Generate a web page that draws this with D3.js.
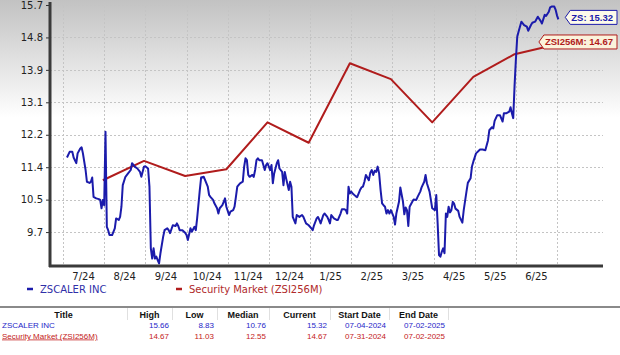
<!DOCTYPE html>
<html><head><meta charset="utf-8">
<script src="https://cdn.jsdelivr.net/npm/d3@7"></script>
<style>html,body{margin:0;padding:0;background:#fff;}svg{display:block;}</style>
</head><body>
<svg id="c" width="620" height="355"></svg>
<script>
// ---------- data ----------
const monthLabels = ['7/24','8/24','9/24','10/24','11/24','12/24','1/25','2/25','3/25','4/25','5/25','6/25'];
const yTickValues = [15.7, 14.843, 13.986, 13.129, 12.271, 11.414, 10.557, 9.7];
const yTickLabels = ['15.7','14.8','13.9','13.1','12.2','11.4','10.5','9.7'];

const zsDates = ['2024-07-04','2024-07-06','2024-07-08','2024-07-09','2024-07-11','2024-07-12','2024-07-14','2024-07-15','2024-07-16','2024-07-18','2024-07-19','2024-07-21','2024-07-22','2024-07-23','2024-07-24','2024-07-26','2024-07-28','2024-07-29','2024-07-30','2024-07-31',
'2024-08-01','2024-08-02','2024-08-03','2024-08-04','2024-08-05','2024-08-07','2024-08-09','2024-08-10','2024-08-12','2024-08-13','2024-08-14','2024-08-15','2024-08-17','2024-08-19','2024-08-21','2024-08-22','2024-08-24','2024-08-26','2024-08-28','2024-08-29','2024-08-31',
'2024-09-01','2024-09-03','2024-09-04','2024-09-05','2024-09-06','2024-09-07','2024-09-08','2024-09-09','2024-09-10','2024-09-11','2024-09-12','2024-09-14','2024-09-15','2024-09-17','2024-09-18','2024-09-19','2024-09-21','2024-09-23','2024-09-24','2024-09-25','2024-09-26','2024-09-28','2024-09-30',
'2024-10-01','2024-10-02','2024-10-04','2024-10-05','2024-10-07','2024-10-08','2024-10-09','2024-10-11','2024-10-12','2024-10-14','2024-10-15','2024-10-17','2024-10-18','2024-10-19','2024-10-21','2024-10-22','2024-10-24','2024-10-25','2024-10-26','2024-10-28','2024-10-29','2024-10-30','2024-10-31',
'2024-11-02','2024-11-03','2024-11-05','2024-11-06','2024-11-07','2024-11-08','2024-11-10','2024-11-12','2024-11-13','2024-11-14','2024-11-15','2024-11-16','2024-11-17','2024-11-19','2024-11-20','2024-11-21','2024-11-22','2024-11-23','2024-11-24','2024-11-26','2024-11-27','2024-11-28','2024-11-29','2024-11-30',
'2024-12-02','2024-12-03','2024-12-04','2024-12-05','2024-12-07','2024-12-08','2024-12-09','2024-12-11','2024-12-12','2024-12-13','2024-12-14','2024-12-16','2024-12-17','2024-12-18','2024-12-19','2024-12-21','2024-12-22','2024-12-24','2024-12-26','2024-12-27','2024-12-29','2024-12-31',
'2025-01-02','2025-01-03','2025-01-04','2025-01-06','2025-01-07','2025-01-08','2025-01-09','2025-01-11','2025-01-12','2025-01-14','2025-01-15','2025-01-16','2025-01-17','2025-01-19','2025-01-21','2025-01-22','2025-01-24','2025-01-25','2025-01-27','2025-01-28','2025-01-29','2025-01-30','2025-01-31',
'2025-02-01','2025-02-02','2025-02-04','2025-02-05','2025-02-07','2025-02-08','2025-02-09','2025-02-10','2025-02-11','2025-02-13','2025-02-14','2025-02-15','2025-02-16','2025-02-17','2025-02-18','2025-02-19','2025-02-20','2025-02-21','2025-02-22','2025-02-23','2025-02-24','2025-02-25','2025-02-26','2025-02-27','2025-02-28',
'2025-03-02','2025-03-03','2025-03-04','2025-03-06','2025-03-07','2025-03-09','2025-03-10','2025-03-11','2025-03-12','2025-03-13','2025-03-14','2025-03-16','2025-03-17','2025-03-19','2025-03-20','2025-03-22','2025-03-23','2025-03-25','2025-03-26','2025-03-27','2025-03-29','2025-03-30','2025-03-31',
'2025-04-02','2025-04-03','2025-04-04','2025-04-05','2025-04-06','2025-04-07','2025-04-08','2025-04-09','2025-04-10','2025-04-11','2025-04-12','2025-04-13','2025-04-14','2025-04-15','2025-04-16','2025-04-17','2025-04-19','2025-04-20','2025-04-22','2025-04-23','2025-04-25','2025-04-26','2025-04-28','2025-04-29','2025-04-30',
'2025-05-02','2025-05-05','2025-05-07','2025-05-09','2025-05-11','2025-05-12','2025-05-14','2025-05-15','2025-05-16','2025-05-18','2025-05-20','2025-05-22','2025-05-23','2025-05-25','2025-05-27','2025-05-28','2025-05-29','2025-05-30','2025-05-31',
'2025-06-01','2025-06-02','2025-06-03','2025-06-05','2025-06-07','2025-06-09','2025-06-10','2025-06-12','2025-06-13','2025-06-15','2025-06-17','2025-06-19','2025-06-20','2025-06-22','2025-06-23','2025-06-25','2025-06-26','2025-06-27','2025-06-29','2025-06-30',
'2025-07-01','2025-07-02'];
const zsValues = [11.67,11.82,11.82,11.67,11.52,11.78,11.91,11.94,11.78,11.34,11.03,11.00,11.03,11.14,10.63,10.59,10.57,10.55,10.33,10.55,
10.41,12.35,9.84,9.75,9.62,9.62,9.80,10.06,10.02,10.10,10.37,10.94,11.16,11.25,11.34,11.52,11.43,11.38,11.29,11.16,11.43,
11.44,11.38,10.90,9.27,9.00,9.27,9.00,9.05,8.96,8.87,9.14,9.58,9.75,9.80,9.75,9.67,9.88,9.86,9.93,9.86,9.75,9.75,9.68,
9.62,9.49,9.80,9.71,9.84,9.75,10.06,10.81,11.14,11.16,11.07,10.90,10.68,10.63,10.55,10.46,10.33,10.19,10.33,10.41,10.50,10.59,10.37,
10.15,10.24,10.28,10.37,10.63,10.90,10.99,11.03,11.43,11.65,11.60,11.21,11.16,11.21,11.16,11.34,11.60,11.65,11.60,11.60,11.47,11.34,11.47,11.52,
11.34,11.47,10.99,11.25,11.52,11.60,11.38,11.29,10.94,11.29,11.12,10.81,11.03,10.90,10.10,9.93,10.15,10.10,10.15,10.10,9.93,9.88,
9.80,9.75,9.88,10.06,10.10,10.02,9.93,10.15,10.19,10.10,10.02,9.93,10.15,10.06,10.02,10.02,10.19,10.30,10.30,10.28,10.19,10.90,10.72,
10.77,10.72,10.65,10.62,10.81,10.88,10.90,11.03,11.21,11.07,11.27,11.34,11.21,11.32,11.29,11.43,11.25,10.81,10.46,10.41,10.37,10.19,10.28,10.19,10.28,
10.10,9.90,10.19,10.50,10.88,10.50,10.17,10.35,10.28,9.86,10.37,10.50,10.56,10.55,10.63,10.77,10.88,11.03,11.21,10.99,10.77,10.55,10.33,
10.28,10.68,9.93,9.09,9.05,9.18,9.27,9.14,10.19,10.10,10.37,10.22,10.28,10.50,10.45,10.32,10.26,10.10,9.95,10.28,10.77,11.00,11.12,11.43,11.56,
11.78,11.88,11.88,11.86,12.12,12.39,12.47,12.44,12.64,12.79,12.79,12.62,12.84,12.84,12.88,13.00,12.84,12.71,13.55,
14.25,14.86,15.00,15.26,15.17,15.13,15.02,15.17,15.23,15.26,15.39,15.28,15.21,15.44,15.41,15.52,15.64,15.66,15.66,15.57,
15.42,15.32];

const mktDates = ['2024-07-31','2024-08-31','2024-09-30','2024-10-31','2024-11-30','2024-12-31','2025-01-31','2025-02-28','2025-03-31','2025-04-30','2025-05-31','2025-07-02'];
const mktValues = [11.07,11.58,11.18,11.36,12.60,12.06,14.16,13.74,12.60,13.80,14.40,14.67];

const seriesNames = ['ZSCALER INC','Security Market (ZSI256M)'];
const tableHeaders = ['Title','High','Low','Median','Current','Start Date','End Date'];
const tableRows = [
  ['ZSCALER INC','15.66','8.83','10.76','15.32','07-04-2024','07-02-2025'],
  ['Security Market (ZSI256M)','14.67','11.03','12.55','14.67','07-31-2024','07-02-2025']
];
const tagLabels = ['ZS: 15.32','ZSI256M: 14.67'];

// ---------- layout ----------
const W = 620, H = 355;
const L = 50, R = 603, T = 5, B = 265;
const X0 = 63, MW = 41.17;
const BLUE = '#1b1bab', RED = '#b01c1c';
const parse = d3.timeParse('%Y-%m-%d');

const svg = d3.select('#c');
const defs = svg.append('defs');
const g = defs.append('linearGradient').attr('id','bg').attr('gradientUnits','userSpaceOnUse')
  .attr('x1',0).attr('y1',0).attr('x2',0).attr('y2',118);
g.append('stop').attr('offset',0).attr('stop-color','#c2c2c2');
g.append('stop').attr('offset',1).attr('stop-color','#ffffff');
svg.append('rect').attr('width',W).attr('height',H).attr('fill','#fff');
svg.append('rect').attr('width',W).attr('height',120).attr('fill','url(#bg)');

// x: equal-width months (polylinear time scale)
const monthStarts = d3.timeMonths(new Date(2024,6,1), new Date(2025,7,2));
const x = d3.scaleTime().domain(monthStarts).range(monthStarts.map((d,i)=>X0+i*MW));
const y = d3.scaleLinear().domain([8.83,15.70]).range([B,T]);

// grid
const grid = svg.append('g').attr('stroke','#c4c4c4').attr('stroke-dasharray','2,2').attr('stroke-width',1);
yTickValues.forEach(v=>grid.append('line').attr('x1',L).attr('x2',R).attr('y1',Math.round(y(v))+0.5).attr('y2',Math.round(y(v))+0.5));
monthStarts.slice(0,13).forEach(d=>grid.append('line').attr('x1',Math.round(x(d))+0.5).attr('x2',Math.round(x(d))+0.5).attr('y1',2).attr('y2',B));

// lines
const zs = zsDates.map((d,i)=>({d:parse(d),v:zsValues[i]}));
const mk = mktDates.map((d,i)=>({d:parse(d),v:mktValues[i]}));
const line = d3.line().x(p=>x(p.d)).y(p=>y(p.v));
svg.append('path').datum(mk).attr('d',line).attr('fill','none').attr('stroke',RED).attr('stroke-width',2).attr('stroke-linejoin','round');
svg.append('path').datum(zs).attr('d',line).attr('fill','none').attr('stroke',BLUE).attr('stroke-width',2).attr('stroke-linejoin','round');

// y axis
const ya = d3.axisLeft(y).tickValues(yTickValues).tickSize(4).tickPadding(3).tickFormat((v,i)=>yTickLabels[i]);
const yg = svg.append('g').attr('transform',`translate(${L},0)`).call(ya);
yg.select('.domain').remove();
yg.selectAll('line').attr('stroke','#333');
yg.selectAll('text').attr('font-family','DejaVu Sans, Verdana, sans-serif').attr('font-size',10).attr('fill','#222');
svg.append('line').attr('x1',L).attr('x2',L).attr('y1',2).attr('y2',B+2).attr('stroke','#3a3a3a').attr('stroke-width',3);
svg.append('line').attr('x1',L-1).attr('x2',R).attr('y1',B+1).attr('y2',B+1).attr('stroke','#3a3a3a').attr('stroke-width',3);

// x labels (mid-month)
const xl = svg.append('g').attr('font-family','DejaVu Sans, Verdana, sans-serif').attr('font-size',10).attr('fill','#222').attr('text-anchor','middle');
monthLabels.forEach((t,i)=>xl.append('text').attr('x',x(monthStarts[i])+MW/2).attr('y',280).text(t));

// tags
function tag(label, yc, stroke, fill, color){
  const tg = svg.append('g');
  const tx = tg.append('text').attr('font-family','Liberation Sans, Arial, sans-serif').attr('font-weight','bold')
    .attr('font-size',9.5).attr('fill',color).attr('text-anchor','end').attr('x',613).attr('y',yc+3.5).text(label);
  const w = tx.node().getComputedTextLength();
  const right = 617, left = right - w - 10, top = yc-7, bot = yc+7;
  tg.insert('path','text').attr('d',`M${left},${yc} L${left+5},${top} L${right},${top} L${right},${bot} L${left+5},${bot} Z`)
    .attr('fill',fill).attr('stroke',stroke).attr('stroke-width',1);
}
tag(tagLabels[0], y(zsValues[zsValues.length-1])-2, BLUE, '#fdfbea', BLUE);
tag(tagLabels[1], y(mktValues[mktValues.length-1])-2, RED, '#fbf3dc', RED);

// legend
const lg = svg.append('g').attr('font-family','DejaVu Sans, Verdana, sans-serif').attr('font-size',10);
[[27,BLUE,'#3030a8'],[176,RED,'#b02a2a']].forEach((c,i)=>{
  lg.append('line').attr('x1',c[0]).attr('x2',c[0]+6).attr('y1',289).attr('y2',289).attr('stroke',c[1]).attr('stroke-width',2.5);
  lg.append('text').attr('x',c[0]+13).attr('y',293).attr('fill',c[2]).text(seriesNames[i]);
});

// separator
svg.append('line').attr('x1',0).attr('x2',W).attr('y1',307).attr('y2',307).attr('stroke','#8a8a8a').attr('stroke-width',2);

// table
const cols = [0,127,172,217,269,330,389,448];
const tb = svg.append('g').attr('font-family','Liberation Sans, Arial, sans-serif');
cols.slice(1).forEach(c=>tb.append('line').attr('x1',c+0.5).attr('x2',c+0.5).attr('y1',308).attr('y2',320).attr('stroke','#e0e0e0'));
tableHeaders.forEach((h,i)=>tb.append('text').attr('x',(cols[i]+cols[i+1])/2).attr('y',317.5).attr('text-anchor','middle')
  .attr('font-size',9).attr('font-weight','bold').attr('fill','#111').text(h));
const rowColors = ['#2626c8','#c42222'];
tableRows.forEach((r,ri)=>{
  const yy = 327.5 + ri*11;
  r.forEach((t,ci)=>{
    const el = tb.append('text').attr('y',yy).attr('font-size',8).attr('fill',rowColors[ri]).text(t);
    if(ci===0){ el.attr('x',2); if(ri===1) el.attr('text-decoration','underline'); }
    else el.attr('x',cols[ci+1]-3).attr('text-anchor','end');
  });
});
</script>
</body></html>
